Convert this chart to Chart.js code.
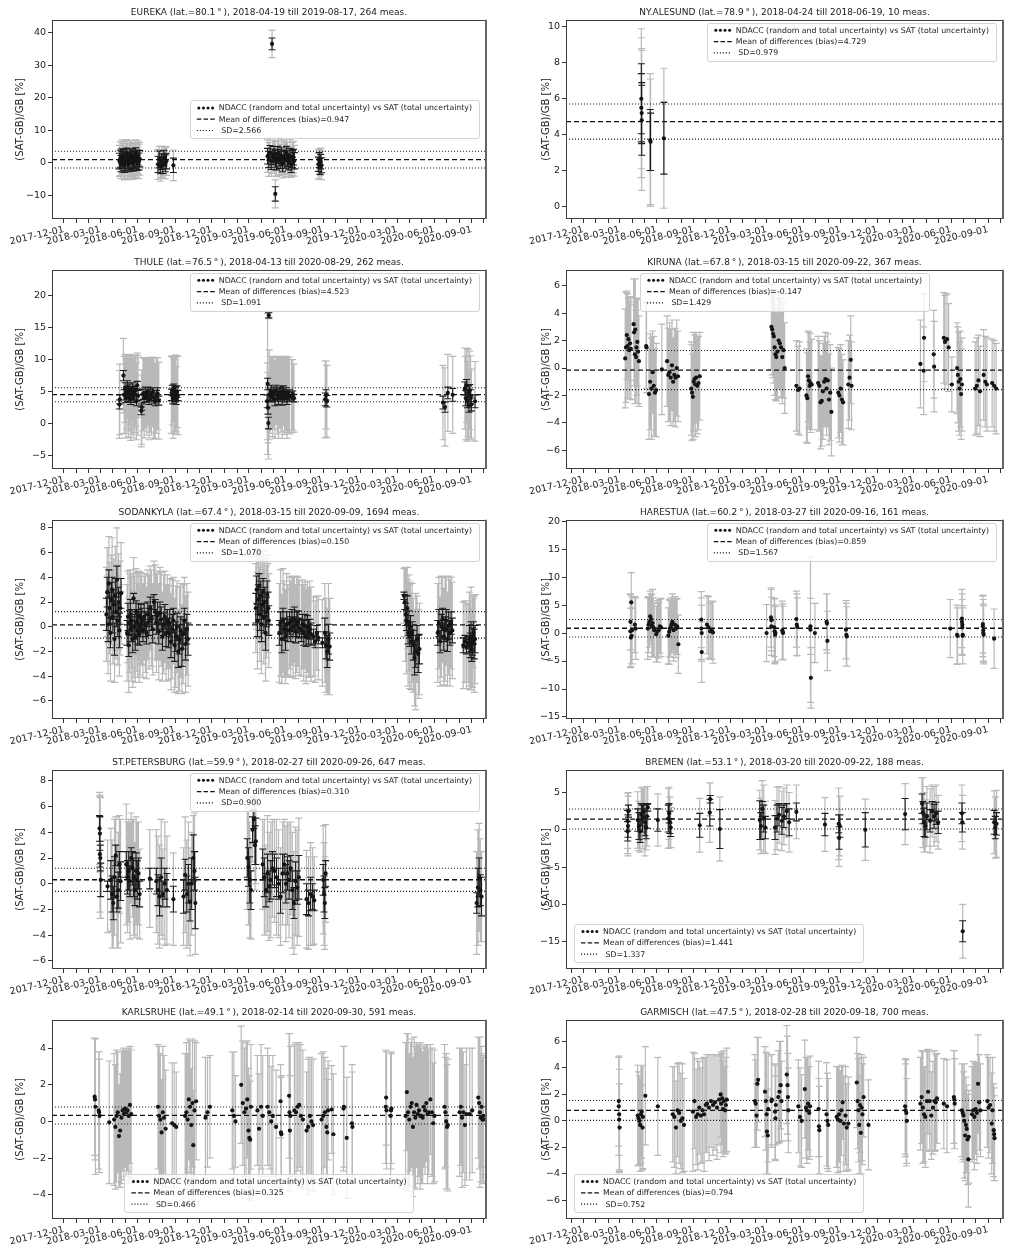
<!DOCTYPE html>
<html>
<head>
<meta charset="utf-8">
<script src="https://cdn.jsdelivr.net/npm/chart.js@4.4.1/dist/chart.umd.min.js"></script>
<style>
  body { margin: 0; background: #fff; width: 1012px; height: 1249px; position: relative; overflow: hidden; }
  canvas { position: absolute; }
</style>
</head>
<body>
<script>
// station info (titles + legend statistics)
const stationNames = ['EUREKA', 'NY.ALESUND', 'THULE', 'KIRUNA', 'SODANKYLA', 'HARESTUA', 'ST.PETERSBURG', 'BREMEN', 'KARLSRUHE', 'GARMISCH'];
const latitudes = [80.1, 78.9, 76.5, 67.8, 67.4, 60.2, 59.9, 53.1, 49.1, 47.5];
const startDates = ['2018-04-19', '2018-04-24', '2018-04-13', '2018-03-15', '2018-03-15', '2018-03-27', '2018-02-27', '2018-03-20', '2018-02-14', '2018-02-28'];
const endDates = ['2019-08-17', '2018-06-19', '2020-08-29', '2020-09-22', '2020-09-09', '2020-09-16', '2020-09-26', '2020-09-22', '2020-09-30', '2020-09-18'];
const measCounts = [264, 10, 262, 367, 1694, 161, 647, 188, 591, 700];
const biasValues = [0.947, 4.729, 4.523, -0.147, 0.150, 0.859, 0.310, 1.441, 0.325, 0.794];
const sdValues = [2.566, 0.979, 1.091, 1.429, 1.070, 1.567, 0.900, 1.337, 0.466, 0.752];

// axis ticks
const quarterTicks = ['2017-12-01', '2018-03-01', '2018-06-01', '2018-09-01', '2018-12-01', '2019-03-01',
  '2019-06-01', '2019-09-01', '2019-12-01', '2020-03-01', '2020-06-01', '2020-09-01'];
const yTickLists = [
  [-10, 0, 10, 20, 30, 40], [0, 2, 4, 6, 8, 10], [-5, 0, 5, 10, 15, 20], [-6, -4, -2, 0, 2, 4, 6], [-6, -4, -2, 0, 2, 4, 6, 8],
  [-15, -10, -5, 0, 5, 10, 15, 20], [-6, -4, -2, 0, 2, 4, 6, 8], [-15, -10, -5, 0, 5], [-4, -2, 0, 2, 4], [-6, -4, -2, 0, 2, 4, 6]
];
const yMins = [-17.3, -0.7, -7.06, -7.36, -7.46, -15.36, -6.63, -18.66, -5.33, -7.4];
const yMaxs = [43.9, 10.4, 24.0, 7.16, 8.65, 20.24, 8.86, 8.04, 5.55, 7.63];

// measurements: days since 2018-01-01, SAT-GB difference [%], random and total uncertainty [%]
const eurekaDays = [106,108,110,112,114,116,118,120,122,124,126,128,130,132,134,136,138,140,142,144,146,148,150,152,154,156,
  201,204,207,210,213,216,219,222,239,
  482,490,
  471,474,477,480,484,487,490,493,496,499,502,505,508,511,514,517,520,523,526,529,532,535,537,
  596,598,600,602,604];
const eurekaDiff = [0.5,1.2,-0.3,2.0,0.8,1.5,-0.8,0.2,1.8,2.5,0.6,-0.5,1.0,1.9,0.3,2.2,0.9,-0.2,1.4,0.7,2.8,1.1,0.0,1.6,0.4,1.2,
  -0.5,1.0,-1.2,0.3,-0.8,1.5,-0.2,0.5,-0.8,
  36.5,-9.6,
  2.0,1.0,3.0,0.5,1.8,2.5,1.2,0.2,2.8,1.5,0.8,2.2,-0.3,1.6,0.9,2.6,1.3,0.4,2.0,-0.5,1.1,1.7,0.6,
  -0.5,0.8,-1.2,0.3,-0.8];
const eurekaRand = [2.4,2.6,2.5,2.3,2.6,2.5,2.2,2.6,2.4,2.0,2.5,2.3,2.6,2.4,2.5,2.1,2.6,2.4,2.5,2.6,1.8,2.5,2.4,2.3,2.6,2.5,
  2.5,2.6,2.2,2.4,2.5,2.3,2.6,2.4,2.2,
  1.8,2.2,
  2.4,2.5,2.3,2.6,2.4,2.5,2.6,2.4,2.2,2.5,2.6,2.4,2.5,2.3,2.6,2.4,2.5,2.6,2.4,2.5,2.6,2.4,2.5,
  2.2,2.3,2.4,2.2,2.3];
const eurekaTot = [4.8,5.2,4.6,5.0,5.1,4.9,4.5,5.2,4.8,4.6,5.3,4.7,5.0,4.9,5.2,4.6,5.1,4.9,4.8,5.2,4.2,5.0,4.8,5.1,5.3,5.0,
  4.6,4.0,4.5,4.8,4.2,3.5,4.8,4.4,4.7,
  4.2,4.3,
  5.0,5.2,4.8,4.6,5.1,5.0,5.3,4.5,4.9,5.2,4.8,5.0,4.4,5.1,5.3,4.8,5.0,4.6,5.2,4.0,5.1,4.9,4.7,
  4.5,3.3,4.0,4.2,4.4];

const nyDays = [113,113,114,114,135,136,169];
const nyDiff = [6.0,5.5,4.8,5.2,3.7,3.6,3.8];
const nyRand = [1.95,1.9,1.95,1.7,1.7,1.6,2.0];
const nyTot = [3.9,3.9,3.9,3.6,3.7,3.5,3.9];

const thuleDays = [106,107,116,
  118,120,122,124,126,128,130,132,134,136,138,140,142,144,146,148,150,152,
  160,161,
  164,167,170,173,176,179,182,185,188,191,194,197,200,203,
  234,236,238,240,242,244,246,248,250,
  470,471,472,473,474,475,
  477,480,483,486,489,492,495,498,501,504,507,510,513,516,519,522,525,
  530,533,536,613,615,617,
  903,908,915,927,957,959,961,963,965,967,969,971,973,982];
const thuleDiff = [3.0,3.8,7.5,
  4.5,5.5,4.0,5.0,5.8,4.2,4.8,5.3,3.8,4.5,5.5,4.0,5.0,4.6,5.2,3.5,6.0,4.4,
  2.0,2.6,
  4.6,4.0,4.8,4.2,5.0,3.8,4.5,4.3,4.9,4.0,3.5,4.4,4.7,3.6,
  4.5,5.2,4.0,5.5,4.2,4.8,3.8,5.0,4.4,
  3.5,6.2,2.5,0.1,16.9,4.5,
  4.5,5.0,4.2,4.8,3.8,5.2,4.4,4.0,4.9,4.6,3.9,5.1,4.3,4.7,4.0,4.5,4.4,
  4.3,4.5,4.0,3.8,4.5,3.5,
  3.3,2.6,4.8,4.5,5.5,4.0,6.0,3.5,4.8,2.8,5.2,4.2,3.0,3.5];
const thuleRand = [0.7,0.7,0.8,
  0.8,0.9,0.7,0.8,0.9,0.8,0.7,0.9,0.8,0.8,0.9,0.7,0.8,0.9,0.8,0.7,0.6,0.8,
  0.6,0.5,
  0.8,0.7,0.9,0.8,0.7,0.8,0.9,0.8,0.7,0.8,0.7,0.8,0.9,0.7,
  0.9,0.8,0.9,0.7,0.8,0.9,0.8,0.9,0.8,
  1.0,0.9,1.0,0.9,0.4,0.8,
  0.9,1.0,0.8,0.9,1.0,0.8,0.9,1.0,0.8,0.9,1.0,0.8,0.9,0.9,1.0,0.8,0.9,
  0.6,0.6,0.6,1.0,0.8,0.9,
  1.0,0.8,0.9,1.0,1.0,1.2,0.9,1.0,1.1,1.0,0.9,1.1,1.0,1.0];
const thuleTot = [5.3,5.5,5.8,
  6.0,5.3,6.2,5.8,5.0,6.3,5.9,5.5,6.4,6.1,5.2,6.2,5.7,6.0,5.5,6.0,5.0,6.2,
  5.6,5.8,
  5.7,6.2,5.5,6.0,5.3,6.3,5.8,6.1,5.4,6.2,5.9,5.9,5.6,6.0,
  6.0,5.4,6.3,5.1,5.8,5.9,5.1,5.6,6.1,
  6.0,11.0,5.5,5.6,0.5,7.0,
  6.0,5.5,6.2,5.7,6.1,5.3,6.0,6.3,5.6,5.9,6.2,5.4,6.0,5.8,6.3,5.9,6.0,
  5.7,5.5,5.3,6.0,5.3,5.6,
  5.8,6.1,6.0,6.0,6.3,6.5,5.8,6.2,6.8,5.3,6.1,6.4,5.5,6.2];

const kirunaDays = [73,75,77,79,81,83,85,87,
  94,95,97,98,100,101,103,105,107,
  125,126,
  132,135,138,141,144,147,150,
  164,
  177,180,183,186,189,192,195,198,201,204,
  237,239,241,243,245,247,249,252,255,258,
  436,438,440,442,444,446,448,451,454,457,460,463,466,469,
  498,502,506,
  523,525,527,529,531,533,536,
  552,555,558,561,564,567,570,573,
  576,579,582,585,
  602,605,608,611,614,
  627,630,633,635,
  806,814,815,839,840,864,867,872,876,884,
  897,899,901,903,905,907,909,
  942,946,950,954,963,967,971,984,989,994];
const kirunaDiff = [0.7,1.5,2.4,1.6,2.1,1.3,1.8,1.4,
  3.2,2.6,1.0,2.8,0.8,1.5,1.9,1.2,0.5,
  1.6,1.5,
  -1.9,-1.0,-1.5,-0.3,-1.3,-1.8,-1.6,
  -0.1,
  0.5,-0.5,-0.3,-0.7,0.2,-1.0,-0.5,-0.7,0.0,-0.6,
  -1.5,-1.8,-2.1,-1.0,-0.8,-1.2,-0.7,-1.3,-1.1,-0.6,
  3.0,2.8,2.5,2.3,1.5,1.0,0.8,1.2,2.0,1.8,1.5,0.8,1.3,0.0,
  -1.3,-1.6,-1.5,
  -2.0,-2.2,-0.6,-0.9,-1.3,-1.1,-1.2,
  -1.1,-1.3,-2.5,-2.4,-1.7,-1.0,-0.8,-1.5,
  -0.9,-2.3,-1.8,-3.2,
  -1.8,-2.0,-1.5,-2.3,-2.5,
  -1.2,-0.7,0.6,-1.3,
  0.3,-0.2,2.2,1.0,0.1,2.2,1.9,2.1,1.5,-1.2,
  0.0,-0.5,-1.0,-1.5,-0.8,-1.9,-1.2,
  -1.5,-1.3,-0.9,-1.7,-0.5,-1.0,-1.2,-1.1,-1.3,-1.5];
const kirunaTot = [3.6,4.0,3.2,3.8,3.0,3.5,3.4,3.7,
  3.3,3.9,3.6,3.7,3.4,3.5,3.2,3.8,3.3,
  3.1,3.3,
  3.3,3.5,3.7,3.0,3.6,3.2,3.4,
  3.3,
  3.3,3.4,3.6,3.5,3.3,3.2,3.4,3.6,3.5,3.3,
  3.4,3.5,3.1,3.6,3.2,3.8,3.3,3.5,3.4,3.2,
  3.1,3.3,3.2,3.4,3.5,3.3,3.2,3.4,3.5,3.3,3.6,3.4,3.5,3.3,
  3.3,3.2,3.4,
  3.4,3.3,3.3,3.5,3.2,3.6,3.3,
  3.4,3.3,3.4,3.3,3.5,3.3,3.4,3.4,
  3.4,3.3,3.5,3.2,
  3.3,3.4,3.2,3.3,3.1,
  3.2,3.1,3.2,3.2,
  3.2,3.2,3.2,3.2,3.3,3.3,3.4,3.3,3.2,2.0,
  3.3,3.5,3.6,3.4,3.5,3.3,3.4,
  3.4,3.5,3.3,3.3,3.3,3.3,3.4,3.2,3.3,3.3];

const sodankylaDays = [74,76,78,80,82,84,86,88,90,92,94,96,98,100,102,104,106,108,110,
  125,127,129,131,133,135,137,139,141,143,145,147,149,151,153,155,157,159,
  161,164,167,170,173,176,179,182,185,188,191,194,197,200,203,206,209,212,215,218,221,224,
  227,230,233,236,239,242,245,248,251,254,257,260,263,266,269,272,275,
  442,444,446,448,450,452,454,456,458,460,462,464,466,468,470,472,474,
  500,503,506,509,512,515,518,521,
  525,528,531,534,537,540,543,546,549,
  554,557,560,563,566,569,572,575,578,
  584,588,592,596,
  606,612,615,618,621,624,
  807,809,811,813,815,817,819,821,823,825,827,
  830,833,836,839,842,845,
  890,893,896,899,902,905,908,911,914,917,920,923,926,
  953,957,961,965,
  968,970,972,974,976,978,980,982];
const sodankylaDiff = [1.0,2.8,0.2,3.5,1.5,-0.5,2.2,3.0,0.8,1.8,-1.0,2.5,1.2,3.8,0.5,2.0,-0.3,1.5,2.7,
  -0.5,0.8,-1.5,0.3,1.0,-0.2,0.5,-1.0,2.3,0.0,-0.8,1.2,0.4,-0.3,0.9,-0.6,0.2,0.7,
  0.5,-0.3,0.8,0.2,-0.5,1.0,0.4,1.5,0.7,-0.2,2.0,1.2,0.3,0.9,-0.4,1.1,0.6,-0.8,0.2,0.8,-0.5,0.4,
  -0.5,0.3,-1.2,-0.2,0.5,-1.5,-0.8,0.0,-2.0,-1.0,-0.3,-1.8,-0.6,0.5,-1.4,-0.2,-1.0,
  1.5,3.0,0.5,2.2,3.3,1.0,2.5,0.2,1.8,2.8,0.8,2.0,-0.5,1.2,2.6,1.5,0.5,
  -0.5,0.3,-1.0,0.5,-0.2,-0.8,0.2,-0.3,
  0.3,-0.2,0.5,0.0,0.6,-0.4,0.2,0.4,-0.1,
  -0.3,0.2,-0.5,0.1,-0.8,0.0,-0.4,-0.2,-0.6,
  -0.8,-1.2,-0.5,-0.9,
  -1.3,-0.5,-1.5,-2.0,-1.0,-1.6,
  2.5,2.0,1.0,0.5,1.5,-0.5,0.3,-0.8,0.0,-1.2,-0.5,
  -1.5,-2.5,-2.0,-1.0,-2.2,-1.8,
  -0.5,0.3,-1.2,0.0,0.6,-0.8,-0.2,0.5,-1.0,0.1,-0.5,0.3,-0.3,
  -1.5,-1.2,-1.6,-1.3,
  -1.0,-1.5,-0.8,-1.8,-1.2,-0.5,-1.4,-1.0];
const sodankylaRand = [1.3,1.2,1.4,1.1,1.3,1.2,1.4,1.0,1.3,1.2,1.3,1.4,1.2,1.1,1.3,1.2,1.4,1.3,1.2,
  1.0,1.1,0.9,1.0,1.2,1.0,0.9,1.1,0.4,1.0,1.1,0.9,1.0,1.1,1.0,0.9,1.0,1.1,
  1.0,0.9,1.1,1.0,0.9,1.0,1.1,0.9,1.0,1.1,0.6,1.0,0.9,1.1,1.0,0.9,1.0,1.1,0.9,1.0,1.1,1.0,
  1.2,1.1,1.3,1.2,1.0,1.3,1.2,1.1,1.3,1.2,1.1,1.4,1.2,1.0,1.3,1.2,1.3,
  1.2,1.1,1.3,1.2,1.0,1.3,1.2,1.4,1.2,1.1,1.3,1.2,1.4,1.2,1.1,1.3,1.2,
  1.0,0.9,1.1,1.0,0.9,1.1,1.0,0.9,
  0.9,1.0,0.9,0.8,1.0,0.9,1.0,0.9,0.8,
  0.9,0.8,1.0,0.9,0.8,0.9,1.0,0.8,0.9,
  0.6,0.5,0.6,0.5,
  0.4,1.2,1.1,1.3,1.2,1.1,
  0.3,0.6,0.9,0.8,1.0,0.9,1.0,0.8,0.9,1.0,0.9,
  1.2,1.4,1.3,1.1,1.5,1.2,
  1.0,1.1,0.9,1.0,0.9,1.1,1.0,0.9,1.0,1.1,1.0,0.9,1.0,
  0.6,0.5,0.6,0.5,
  1.1,1.0,1.2,1.0,1.1,0.9,1.2,1.1];
const sodankylaTot = [3.8,3.6,4.0,3.8,3.7,3.9,3.6,4.2,3.8,3.7,3.5,4.0,3.8,4.2,3.6,3.9,3.7,3.8,4.1,
  3.9,3.7,3.8,4.0,3.6,4.2,3.8,3.9,3.3,4.1,3.7,3.5,4.0,3.8,3.6,3.9,4.1,3.7,
  3.6,3.8,3.5,3.9,3.7,3.6,3.8,3.4,3.9,3.7,3.3,3.8,4.0,3.6,3.9,3.7,3.8,3.6,4.0,3.7,3.9,3.8,
  3.8,3.6,3.9,4.0,3.5,3.8,4.1,3.7,3.4,4.2,3.8,3.6,4.0,3.5,3.9,3.7,3.8,
  3.6,3.2,3.9,3.5,3.0,3.8,3.4,4.0,3.6,3.3,3.8,3.5,3.9,3.7,3.2,3.6,3.8,
  4.0,4.3,3.6,4.2,3.9,3.8,4.1,3.7,
  3.7,3.9,3.6,4.0,3.5,3.8,3.9,3.6,3.8,
  3.7,3.6,3.9,3.5,3.8,3.7,3.6,3.9,3.8,
  3.2,3.3,3.0,3.4,
  3.5,4.0,3.8,3.5,4.5,3.9,
  2.2,2.8,3.8,4.3,3.3,4.3,3.9,4.2,3.6,3.9,4.0,
  3.8,3.9,4.7,3.5,3.6,3.7,
  4.0,3.7,3.6,4.1,3.5,3.9,4.2,3.6,3.8,4.0,4.3,3.7,3.9,
  3.5,3.3,3.4,3.2,
  3.8,3.6,4.0,3.3,3.7,2.8,3.9,3.6];

const harestuaDays = [86,86,87,88,89,90,97,99,
  129,131,133,135,137,139,141,143,145,
  150,153,156,159,162,
  180,182,184,186,188,190,193,196,199,202,205,
  262,262,263,263,276,280,284,288,291,
  424,435,436,436,443,444,445,446,463,464,465,
  498,499,500,533,533,534,544,573,574,575,
  621,622,623,
  880,897,898,909,909,910,910,911,911,961,961,962,962,963,989];
const harestuaDiff = [2.0,0.3,-0.8,5.5,-0.5,0.5,1.5,0.8,
  0.8,1.5,2.0,3.0,2.5,1.3,1.8,1.0,0.5,
  -0.2,0.3,0.5,1.2,1.0,
  -0.5,0.2,0.8,1.0,1.5,2.0,0.5,1.5,0.8,1.2,-2.0,
  2.4,0.8,0.0,-3.4,1.5,1.0,0.3,0.5,0.1,
  0.0,2.8,2.3,1.2,1.0,0.3,-0.3,0.0,0.5,0.2,0.0,
  2.5,1.5,1.1,1.2,0.6,-8.0,0.0,2.0,1.7,-1.4,
  0.6,-0.3,-0.6,
  0.8,-0.3,-0.5,2.6,2.0,1.5,1.0,-0.5,-0.3,1.6,1.2,0.5,0.0,-0.3,-1.0];
const harestuaTot = [5.0,6.5,5.2,5.3,5.0,6.0,5.0,5.5,
  5.5,5.0,4.5,4.5,4.5,5.5,6.0,5.3,4.8,
  5.0,5.5,5.0,4.8,5.2,
  5.0,5.8,5.0,5.3,4.8,5.0,5.5,5.0,5.2,5.0,5.2,
  5.0,5.5,5.0,5.4,5.2,5.5,5.0,5.2,5.5,
  5.1,5.3,5.5,5.2,5.2,5.8,5.0,5.0,5.2,5.0,4.8,
  5.0,5.5,5.2,5.0,13.0,5.4,5.3,5.0,5.3,5.3,
  5.2,5.6,5.3,
  5.2,5.3,5.0,5.2,5.8,5.5,5.0,5.0,5.2,5.2,5.4,5.5,5.2,5.2,5.3];

const petersburgDays = [57,58,58,59,60,77,
  85,88,91,94,97,100,103,106,109,
  123,126,129,132,135,138,141,144,147,150,153,156,
  181,197,201,205,209,213,218,223,
  239,264,268,272,276,280,284,288,291,293,
  421,424,427,430,434,437,440,442,
  459,463,467,471,475,479,483,
  488,493,498,503,508,512,516,
  520,524,528,532,536,540,544,548,
  567,572,577,582,586,608,610,612,614,
  986,989,992,995,998];
const petersburgDiff = [4.3,3.9,2.3,2.0,0.3,-0.2,
  0.3,-0.8,-1.5,0.5,2.2,-1.0,-0.5,1.5,0.2,
  1.5,0.5,1.0,0.2,2.0,1.2,0.5,-0.5,1.0,0.3,0.8,-0.8,
  0.4,0.2,-0.5,-1.0,0.5,-0.8,0.0,-0.5,
  -1.2,-1.0,0.7,-0.8,0.0,-1.4,0.0,2.0,1.0,-1.5,
  2.0,1.3,0.3,-0.5,4.2,5.0,3.0,3.3,
  1.5,0.5,-0.5,0.8,-0.2,0.3,1.2,
  1.0,0.5,0.0,-1.0,0.8,1.5,0.0,
  0.8,0.3,1.2,-0.5,-1.5,0.2,-0.3,0.5,
  -1.2,-1.5,-0.8,-1.0,-1.3,0.3,-0.8,-1.5,0.8,
  -1.5,-0.3,0.5,-0.5,-1.0];
const petersburgRand = [1.0,1.3,1.0,1.0,1.3,0.4,
  1.5,1.4,1.3,1.6,0.8,1.2,1.4,1.0,1.5,
  1.0,1.3,1.5,1.2,0.8,1.3,1.5,1.2,1.4,1.5,1.2,1.0,
  0.8,1.0,1.2,1.5,1.5,1.0,1.2,1.3,
  1.0,1.3,1.2,1.4,1.5,1.5,2.0,1.8,1.5,2.0,
  1.5,1.5,1.8,1.5,1.0,0.7,1.5,1.8,
  1.2,1.5,1.3,1.5,1.2,1.5,1.3,
  1.3,1.5,1.2,1.3,1.5,0.8,1.5,
  1.3,1.5,1.0,1.5,1.2,1.5,1.3,1.7,
  1.2,1.0,1.3,1.0,0.8,1.2,1.4,1.2,1.0,
  0.8,1.5,1.5,1.2,1.5];
const petersburgTot = [2.8,3.0,4.5,4.7,3.0,3.6,
  4.0,4.2,3.5,4.5,3.0,4.0,4.5,3.8,4.8,
  4.7,4.3,4.0,4.5,3.5,3.8,4.5,3.7,4.2,4.5,4.0,3.5,
  3.8,4.0,4.2,4.0,4.5,3.5,4.8,4.2,
  3.6,3.8,4.5,4.2,4.8,4.2,4.0,3.3,4.5,4.0,
  4.0,4.5,4.5,3.8,2.5,1.8,3.5,3.3,
  3.5,4.5,3.5,4.5,4.2,4.5,3.8,
  4.0,4.5,4.2,3.8,4.0,3.5,4.5,
  4.0,4.5,3.6,4.5,4.0,4.2,4.5,4.6,
  3.8,3.6,4.0,3.8,3.4,4.2,4.0,3.6,3.8,
  4.0,4.5,4.2,4.0,3.5];

const bremenDays = [79,79,80,81,
  104,107,110,113,116,119,122,125,127,129,
  154,180,182,184,186,
  258,283,284,308,
  407,410,413,417,421,
  445,450,455,462,467,474,480,498,
  569,603,604,606,669,
  768,810,812,815,818,822,830,835,840,845,850,
  909,910,911,989,992,995];
const bremenDiff = [1.2,-0.2,0.5,2.5,
  1.3,0.5,-0.2,2.0,1.5,2.5,1.0,0.3,1.8,3.0,
  1.3,1.5,2.2,1.0,0.3,
  0.6,2.3,4.1,0.1,
  1.3,0.5,2.8,1.5,0.3,
  0.3,1.5,2.0,1.2,1.8,2.5,1.0,2.4,
  0.7,0.8,-1.1,0.5,0.0,
  2.1,3.5,2.3,1.0,0.5,1.8,1.2,2.5,1.8,2.2,1.0,
  2.2,1.0,-13.6,1.0,0.3,0.8];
const bremenRand = [1.4,1.3,1.5,0.8,
  1.5,1.8,1.5,1.5,1.8,1.0,1.8,1.5,1.6,0.5,
  1.5,1.8,1.3,1.5,1.2,
  1.6,1.8,0.5,2.6,
  2.6,1.8,1.0,1.8,1.5,
  1.6,1.8,1.5,1.8,1.5,1.0,1.8,1.2,
  1.5,1.2,1.5,1.5,2.3,
  2.1,1.3,1.5,1.9,1.5,1.8,1.5,1.3,1.6,1.5,1.5,
  1.4,1.3,1.4,1.6,1.5,1.5];
const bremenTot = [3.7,3.0,4.0,2.5,
  3.8,3.3,2.8,3.7,4.0,3.2,4.5,3.0,4.0,2.8,
  3.5,4.0,3.5,3.4,2.7,
  3.6,4.0,2.2,4.3,
  4.0,3.7,3.8,4.5,3.5,
  3.6,4.2,3.8,4.0,3.8,3.5,4.0,3.6,
  3.6,4.8,3.8,4.0,4.1,
  4.1,3.5,4.7,4.0,3.5,4.0,4.3,3.5,4.0,3.8,3.6,
  3.8,3.6,3.6,4.2,4.1,4.5];

const karlsruheDays = [45,46,47,55,56,57,81,
  93,96,99,102,105,108,111,114,117,120,123,126,129,132,135,
  201,204,207,210,213,216,220,236,241,246,
  268,271,274,277,280,283,286,288,291,295,318,323,329,
  384,388,392,406,410,414,418,421,424,426,428,430,
  446,450,455,459,471,475,480,484,492,503,504,505,
  524,525,526,527,537,541,545,549,553,558,567,571,575,579,583,
  604,608,612,616,618,620,629,633,658,659,666,679,680,
  762,763,764,774,775,776,
  811,814,817,820,823,826,829,832,835,838,841,844,847,
  850,853,856,859,862,865,868,872,876,879,882,
  907,909,911,913,915,944,947,950,953,957,961,969,975,
  990,992,994,996,998,1000,1002,1003];
const karlsruheDiff = [1.35,1.2,0.8,0.6,0.5,0.3,-0.05,
  0.1,-0.3,0.3,0.5,-0.8,-0.5,0.2,0.6,0.4,0.7,0.5,0.6,0.3,0.9,0.4,
  0.8,0.3,0.1,-0.6,0.5,0.2,-0.4,-0.1,-0.2,-0.3,
  0.3,0.5,0.1,1.2,0.8,-0.2,1.0,-1.3,0.6,1.1,0.2,0.5,0.8,
  0.6,0.3,0.0,2.0,1.0,0.5,0.7,1.2,-0.5,-0.9,-1.0,0.8,
  0.6,-0.4,0.8,0.3,0.8,0.5,0.0,0.3,-0.3,1.1,-0.6,-0.7,
  1.4,0.5,-0.5,0.3,0.6,0.5,0.8,0.9,0.3,0.1,-0.5,-0.3,0.3,0.0,-0.2,
  0.1,0.3,0.5,-0.3,-0.6,0.6,0.65,-0.7,0.7,0.8,-0.9,-0.1,-0.3,
  0.8,1.3,0.6,0.3,0.6,0.7,
  0.3,1.6,0.5,0.1,0.8,1.0,-0.3,0.5,0.2,0.9,0.4,0.6,0.3,
  0.3,0.2,0.8,0.6,1.0,0.4,0.5,1.2,0.5,-0.1,0.3,
  0.8,0.5,0.0,-0.3,-0.2,0.5,0.8,0.2,0.5,-0.2,0.4,0.4,0.6,
  1.3,1.0,0.5,0.2,0.8,0.1,0.3,0.1];
const karlsruheTot = [3.2,3.3,3.7,3.2,3.3,3.1,3.35,
  3.6,3.4,3.6,3.3,2.8,3.1,3.6,3.3,3.6,3.2,3.5,3.3,3.7,3.2,3.5,
  3.4,3.8,3.6,2.9,3.6,3.4,3.2,3.3,3.4,3.0,
  3.4,3.8,3.6,3.3,3.6,3.1,3.5,3.0,3.8,3.2,3.3,3.0,2.8,
  3.2,3.5,2.5,3.2,3.4,3.5,3.6,3.2,3.4,3.4,3.2,3.4,
  3.0,3.0,3.4,3.3,3.2,3.1,3.0,3.3,3.1,2.0,3.0,3.2,
  3.4,4.3,3.0,3.8,3.6,3.8,3.5,3.4,3.9,3.8,3.2,3.7,3.2,3.4,3.6,
  3.6,3.5,3.0,3.2,2.9,2.7,2.4,3.3,3.4,3.3,3.3,3.2,3.0,
  3.1,2.6,3.2,3.5,3.2,3.0,
  4.0,3.2,4.3,3.6,3.5,3.5,3.8,4.1,3.9,3.4,3.8,3.6,4.0,
  3.7,3.6,3.3,3.5,3.2,3.8,3.4,3.0,3.5,3.3,3.6,
  3.4,3.0,3.7,3.4,3.6,3.5,3.2,3.8,3.3,3.3,3.6,3.6,3.4,
  3.3,3.6,4.1,3.5,3.3,3.4,3.2,3.5];

const garmischDays = [57,57,58,58,59,
  104,106,108,110,112,114,116,117,123,154,
  191,195,199,203,207,211,215,219,
  241,245,249,253,257,261,265,269,273,
  276,281,286,291,296,301,306,311,316,
  310,314,318,321,323,325,
  395,397,399,401,403,420,422,424,425,427,428,
  436,437,445,446,447,453,456,459,461,474,476,477,478,
  503,507,511,519,522,524,527,530,532,
  553,554,555,573,575,577,
  598,601,604,607,610,613,616,620,623,627,
  648,650,652,654,656,658,660,662,665,677,
  768,769,771,772,806,809,812,815,818,822,
  825,829,833,837,841,844,847,864,872,889,
  890,891,909,911,913,915,917,919,921,923,925,926,
  934,937,940,943,946,949,952,955,
  972,975,979,983,985,988,989,990];
const garmischDiff = [1.5,1.1,0.5,0.1,-0.5,
  0.4,0.2,0.0,-0.3,0.5,0.7,-0.5,0.3,1.9,1.1,
  0.5,0.3,-0.5,0.8,0.6,0.0,0.2,-0.3,
  0.7,1.5,0.3,0.5,1.0,0.4,0.8,0.5,1.2,
  1.3,1.0,1.5,1.2,1.4,1.0,1.6,1.3,0.9,
  2.0,1.7,1.5,0.8,1.2,1.6,
  1.5,1.3,0.4,2.8,3.1,2.2,1.5,0.5,-0.8,-1.1,0.9,
  1.5,1.6,0.7,0.2,1.2,1.8,2.2,2.7,1.5,3.5,2.7,1.8,0.8,
  1.1,0.3,0.0,2.4,1.0,0.8,1.3,0.6,1.1,
  0.9,-0.4,-0.7,0.5,0.0,-0.3,
  0.3,0.1,0.5,0.0,0.8,1.4,-0.2,0.4,-0.5,-0.2,
  2.9,1.5,0.8,-0.3,1.2,-0.9,1.0,0.5,1.8,-0.3,
  1.1,0.8,0.6,0.0,1.3,1.8,1.0,0.5,0.3,1.5,
  2.2,1.5,0.4,1.0,1.5,1.4,1.7,1.3,1.1,1.8,
  1.6,1.3,0.8,0.6,0.4,0.0,-1.1,-0.3,-0.6,-1.4,-2.9,-1.2,
  0.5,0.8,0.3,0.9,0.6,2.8,1.4,0.8,
  1.5,1.0,1.2,-0.2,0.8,-0.7,-1.0,-1.3];
const garmischTot = [3.4,3.7,4.4,3.8,3.3,
  3.8,3.5,3.4,3.5,3.7,3.5,3.2,3.9,3.7,3.7,
  3.6,3.8,3.5,3.5,3.8,3.6,4.1,3.5,
  4.5,3.6,3.6,4.2,3.5,3.6,3.9,4.3,3.6,
  3.7,4.0,3.5,3.8,3.6,3.9,3.4,3.7,3.6,
  3.2,3.4,3.8,3.3,3.6,3.9,
  3.5,3.3,2.4,3.5,3.2,3.4,3.7,4.6,3.2,2.9,4.0,
  3.5,3.4,3.6,3.2,3.0,3.5,3.8,3.3,3.0,3.7,3.7,3.3,3.2,
  3.5,3.7,3.5,3.7,3.8,4.0,3.5,3.5,3.8,
  3.6,3.6,3.3,3.9,3.6,3.5,
  3.8,4.0,3.6,3.8,3.4,2.8,3.6,3.7,3.3,3.5,
  3.4,3.6,3.9,3.7,3.6,3.1,4.0,3.8,3.0,3.4,
  3.6,3.5,4.0,3.2,3.5,3.5,4.2,3.6,3.8,3.8,
  3.2,3.7,3.3,3.5,3.8,3.6,3.4,3.4,3.5,3.5,
  3.7,3.4,3.5,3.7,3.3,4.3,3.4,3.6,3.3,3.4,3.6,3.5,
  3.6,3.7,4.0,3.4,3.8,3.7,3.6,3.5,
  3.5,3.8,3.6,3.8,4.0,3.5,3.5,3.2];

// panels in figure order (row by row, left then right)
const allDays = [eurekaDays, nyDays, thuleDays, kirunaDays, sodankylaDays, harestuaDays, petersburgDays, bremenDays, karlsruheDays, garmischDays];
const allDiff = [eurekaDiff, nyDiff, thuleDiff, kirunaDiff, sodankylaDiff, harestuaDiff, petersburgDiff, bremenDiff, karlsruheDiff, garmischDiff];
const allRand = [eurekaRand, nyRand, thuleRand, null, sodankylaRand, null, petersburgRand, bremenRand, null, null];
const allTot = [eurekaTot, nyTot, thuleTot, kirunaTot, sodankylaTot, harestuaTot, petersburgTot, bremenTot, karlsruheTot, garmischTot];
const legendLocs = ['center right', 'upper right', 'upper right', 'upper center', 'upper right', 'upper right', 'upper right', 'lower left', 'lower center', 'lower left'];

Chart.defaults.font.family = '"DejaVu Sans", sans-serif';

const DAY0 = Date.UTC(2018, 0, 1);
function toDay(s) {
  const [y, m, d] = s.split('-').map(Number);
  return (Date.UTC(y, m - 1, d) - DAY0) / 864e5;
}
const xRanges = [['2017-11-02', '2020-10-06'], ['2017-10-19', '2020-10-08']];
const quarterLabel = new Map(quarterTicks.map(s => [toDay(s), s]));
const monthTicks = [];
for (let y = 2017; y <= 2020; y++) {
  for (let m = 1; m <= 12; m++) {
    monthTicks.push(toDay(`${y}-${String(m).padStart(2, '0')}-01`));
  }
}
const minus = v => (v < 0 ? '\u2212' + Math.abs(v) : String(v));

function drawBars(chart, xs, ys, errs, color, width) {
  const { ctx, chartArea: a, scales: { x, y } } = chart;
  ctx.save();
  ctx.beginPath();
  ctx.rect(a.left, a.top, a.width, a.height);
  ctx.clip();
  ctx.strokeStyle = color;
  ctx.lineWidth = width;
  ctx.beginPath();
  const n = Math.min(xs.length, ys.length, errs.length);
  for (let i = 0; i < n; i++) {
    const px = x.getPixelForValue(xs[i]);
    const top = y.getPixelForValue(ys[i] + errs[i]);
    const bot = y.getPixelForValue(ys[i] - errs[i]);
    ctx.moveTo(px, top); ctx.lineTo(px, bot);
    ctx.moveTo(px - 3.5, top); ctx.lineTo(px + 3.5, top);
    ctx.moveTo(px - 3.5, bot); ctx.lineTo(px + 3.5, bot);
  }
  ctx.stroke();
  ctx.restore();
}

const errorBars = {
  id: 'errorBars',
  beforeDatasetsDraw(chart, args, o) {
    drawBars(chart, o.days, o.diff, o.tot, '#b9b9b9', 1.2);
  },
  beforeDatasetDraw(chart, args, o) {
    if (args.index === 0 && o.rand) drawBars(chart, o.days, o.diff, o.rand, '#1c1c1c', 1.1);
  }
};

const frame = {
  id: 'frame',
  afterDatasetsDraw(chart) {
    const { ctx, chartArea: a } = chart;
    ctx.save();
    ctx.strokeStyle = '#3c3c3c';
    ctx.lineWidth = 1;
    ctx.strokeRect(Math.round(a.left) + 0.5, Math.round(a.top) + 0.5, Math.round(a.width) - 1, Math.round(a.height) - 1);
    ctx.strokeStyle = '#666';
    ctx.lineWidth = 2;
    ctx.beginPath();
    ctx.moveTo(Math.round(a.right), a.top);
    ctx.lineTo(Math.round(a.right), a.bottom);
    ctx.stroke();
    ctx.restore();
  }
};

const boxLegend = {
  id: 'boxLegend',
  afterDraw(chart, args, o) {
    const { ctx, chartArea: a } = chart;
    ctx.save();
    ctx.font = '7.8px "DejaVu Sans"';
    const w = Math.max(...o.labels.map(t => ctx.measureText(t).width)) + 36;
    const h = 38;
    const [v, hz] = o.loc.split(' ');
    const x = hz === 'right' ? a.right - 7 - w : hz === 'left' ? a.left + 8 : (a.left + a.right - w) / 2;
    const y = v === 'upper' ? a.top + 3 : v === 'lower' ? a.bottom - 7 - h : (a.top + a.bottom - h) / 2;
    ctx.beginPath();
    ctx.roundRect(Math.round(x) + 0.5, Math.round(y) + 0.5, Math.round(w), h, 2.5);
    ctx.fillStyle = 'rgba(255,255,255,0.8)';
    ctx.fill();
    ctx.strokeStyle = '#d2d2d2';
    ctx.lineWidth = 1;
    ctx.stroke();
    const rows = [y + 7.5, y + 18.8, y + 30.1];
    ctx.fillStyle = '#111';
    for (let k = 0; k < 4; k++) {
      ctx.beginPath();
      ctx.arc(x + 9 + k * 4.6, rows[0], 1.5, 0, Math.PI * 2);
      ctx.fill();
    }
    ctx.strokeStyle = '#111';
    ctx.lineWidth = 1.3;
    ctx.setLineDash([4.5, 2.2]);
    ctx.beginPath(); ctx.moveTo(x + 7, rows[1]); ctx.lineTo(x + 25, rows[1]); ctx.stroke();
    ctx.lineWidth = 1.1;
    ctx.setLineDash([1.1, 1.9]);
    ctx.beginPath(); ctx.moveTo(x + 7, rows[2]); ctx.lineTo(x + 25, rows[2]); ctx.stroke();
    ctx.setLineDash([]);
    ctx.fillStyle = '#1a1a1a';
    ctx.textBaseline = 'middle';
    o.labels.forEach((t, k) => ctx.fillText(t, x + 29, rows[k] + 0.5));
    ctx.restore();
  }
};

stationNames.forEach((name, i) => {
  const col = i % 2, row = Math.floor(i / 2);
  const canvas = document.createElement('canvas');
  canvas.width = col ? 506 : 500;
  canvas.height = 250;
  canvas.style.left = (col ? 506 : 0) + 'px';
  canvas.style.top = (row * 250) + 'px';
  document.body.appendChild(canvas);

  const xMin = toDay(xRanges[col][0]), xMax = toDay(xRanges[col][1]);
  const days = allDays[i], diff = allDiff[i];
  const points = days.map((d, k) => ({ x: d, y: diff[k] }));
  const bias = biasValues[i], sd = sdValues[i];
  const hline = v => [{ x: xMin, y: v }, { x: xMax, y: v }];
  const ticksX = monthTicks.filter(t => t >= xMin && t <= xMax);

  new Chart(canvas, {
    type: 'scatter',
    data: {
      datasets: [
        { data: points, pointRadius: 2.1, pointBackgroundColor: '#141414', pointBorderWidth: 0 },
        { data: hline(bias), showLine: true, borderColor: '#111', borderWidth: 1.3, borderDash: [5, 3], pointRadius: 0 },
        { data: hline(bias + sd), showLine: true, borderColor: '#222', borderWidth: 1.1, borderDash: [1.1, 1.9], pointRadius: 0 },
        { data: hline(bias - sd), showLine: true, borderColor: '#222', borderWidth: 1.1, borderDash: [1.1, 1.9], pointRadius: 0 }
      ]
    },
    options: {
      responsive: false,
      animation: false,
      devicePixelRatio: 1,
      layout: { padding: { left: 0, right: col ? 9 : 14, top: 0, bottom: 0 } },
      plugins: {
        legend: { display: false },
        tooltip: { enabled: false },
        title: {
          display: true,
          fullSize: false,
          text: `${name} (lat.=${latitudes[i]}\u2009°\u2009), ${startDates[i]} till ${endDates[i]}, ${measCounts[i]} meas.`,
          font: { size: 9, weight: 'normal' },
          color: '#1a1a1a',
          padding: { top: 7, bottom: 2 }
        },
        errorBars: { days, diff, tot: allTot[i], rand: allRand[i] },
        boxLegend: {
          loc: legendLocs[i],
          labels: [
            'NDACC (random and total uncertainty) vs SAT (total uncertainty)',
            'Mean of differences (bias)=' + bias.toFixed(3),
            ' SD=' + sd.toFixed(3)
          ]
        }
      },
      scales: {
        x: {
          type: 'linear',
          min: xMin,
          max: xMax,
          afterBuildTicks: s => { s.ticks = ticksX.map(v => ({ value: v })); },
          afterFit: s => { s.height = 31; },
          grid: { drawOnChartArea: false, tickLength: 4, color: '#333' },
          border: { display: false },
          ticks: {
            autoSkip: false, minRotation: 13, maxRotation: 13, padding: 1,
            font: { size: 9.5 }, color: '#222',
            callback: v => quarterLabel.get(v) || ''
          }
        },
        y: {
          min: yMins[i],
          max: yMaxs[i],
          afterBuildTicks: s => { s.ticks = yTickLists[i].map(v => ({ value: v })); },
          afterFit: s => { s.width = col ? 60 : 52; },
          grid: { drawOnChartArea: false, tickLength: 4, color: '#333' },
          border: { display: false },
          ticks: { font: { size: 9.5 }, color: '#222', padding: 2, callback: v => minus(v) },
          title: {
            display: true, text: '(SAT-GB)/GB [%]', color: '#222',
            font: { size: 10 }, padding: { top: col ? 34 : 14, bottom: 0 }
          }
        }
      }
    },
    plugins: [errorBars, frame, boxLegend]
  });
});
</script>
</body>
</html>
